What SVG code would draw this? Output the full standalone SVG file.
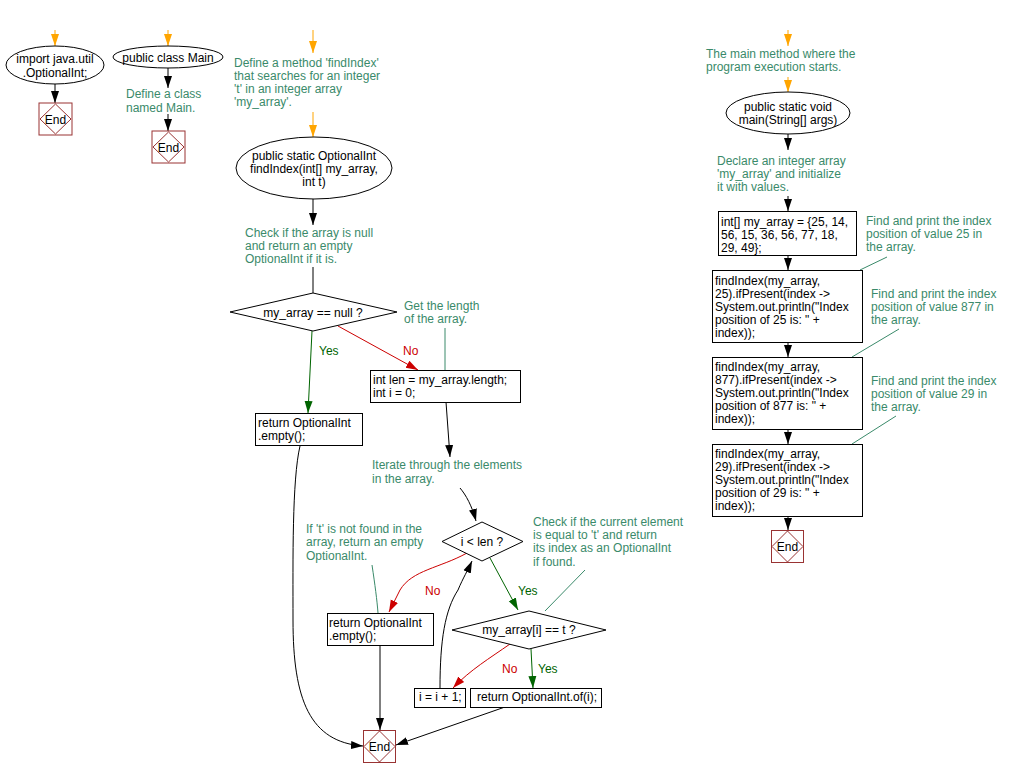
<svg xmlns="http://www.w3.org/2000/svg" width="1011" height="777" viewBox="0 0 1011 777">
<defs>
<style>
text{font-family:"Liberation Sans",Arial,sans-serif;font-size:12px;fill:#000}
.c{fill:#3A8A6A}
.m{text-anchor:middle}
.y{fill:#006400}
.n{fill:#CC0000}
.sh{fill:#fff;stroke:#000;stroke-width:1}
.end rect,.end path{fill:#fff;stroke:#993333;stroke-width:1}
.k{fill:none;stroke:#000;stroke-width:1}
.o{fill:none;stroke:#FFA500;stroke-width:1}
.g{fill:none;stroke:#006400;stroke-width:1}
.r{fill:none;stroke:#CC0000;stroke-width:1}
.cl{fill:none;stroke:#3A8A6A;stroke-width:1}
</style>
<marker id="ak" markerUnits="userSpaceOnUse" markerWidth="14" markerHeight="10" refX="12" refY="5" orient="auto"><path d="M0,1 L12,5 L0,9 z" fill="#000"/></marker>
<marker id="ao" markerUnits="userSpaceOnUse" markerWidth="14" markerHeight="10" refX="12" refY="5" orient="auto"><path d="M0,1 L12,5 L0,9 z" fill="#FFA500"/></marker>
<marker id="ag" markerUnits="userSpaceOnUse" markerWidth="14" markerHeight="10" refX="12" refY="5" orient="auto"><path d="M0,1 L12,5 L0,9 z" fill="#006400"/></marker>
<marker id="ar" markerUnits="userSpaceOnUse" markerWidth="14" markerHeight="10" refX="12" refY="5" orient="auto"><path d="M0,1 L12,5 L0,9 z" fill="#CC0000"/></marker>
</defs>
<rect width="1011" height="777" fill="#fff"/>

<g id="connectors">
<path class="o" d="M55,30 L55,46" marker-end="url(#ao)"/>
<path class="k" d="M55,84 L55,103" marker-end="url(#ak)"/>
<path class="o" d="M168,30 L168,46" marker-end="url(#ao)"/>
<path class="k" d="M168,68 L168,88" marker-end="url(#ak)"/>
<path class="k" d="M168,114 L168,131" marker-end="url(#ak)"/>
<path class="o" d="M313,30 L313,53" marker-end="url(#ao)"/>
<path class="o" d="M313,112 L313,137" marker-end="url(#ao)"/>
<path class="k" d="M313,199 L313,225" marker-end="url(#ak)"/>
<path class="k" d="M313,267 L313,293"/>
<path class="g" d="M312,331 L308,413" marker-end="url(#ag)"/>
<path class="r" d="M338,326 L418,370" marker-end="url(#ar)"/>
<path class="k" d="M446,402 L450,457" marker-end="url(#ak)"/>
<path class="k" d="M460,488 C466,495 472,506 476,521" marker-end="url(#ak)"/>
<path class="k" d="M300,446 C292,480 293,560 293,620 C293,700 310,742 363,746" marker-end="url(#ak)"/>
<path class="r" d="M467,553 C440,568 412,570 400,590 L389,612" marker-end="url(#ar)"/>
<path class="g" d="M490,558 L518,610" marker-end="url(#ag)"/>
<path class="k" d="M440,688 C440,640 445,610 458,590 C463,578 468,570 472,561" marker-end="url(#ak)"/>
<path class="r" d="M510,644 C490,658 470,670 453,688" marker-end="url(#ar)"/>
<path class="g" d="M531,649 L533,688" marker-end="url(#ag)"/>
<path class="k" d="M380,645 L380,730" marker-end="url(#ak)"/>
<path class="k" d="M505,707 L396,745" marker-end="url(#ak)"/>
<path class="cl" d="M445,328 L445,370"/>
<path class="cl" d="M372,565 C375,585 377,600 378,613"/>
<path class="cl" d="M585,570 L545,611"/>
<path class="o" d="M788,30 L788,46" marker-end="url(#ao)"/>
<path class="o" d="M788,77 L788,92" marker-end="url(#ao)"/>
<path class="k" d="M788,134 L788,150" marker-end="url(#ak)"/>
<path class="k" d="M788,196 L788,211" marker-end="url(#ak)"/>
<path class="k" d="M788,256 L788,270" marker-end="url(#ak)"/>
<path class="k" d="M788,342 L788,357" marker-end="url(#ak)"/>
<path class="k" d="M788,429 L788,444" marker-end="url(#ak)"/>
<path class="k" d="M788,516 L788,530" marker-end="url(#ak)"/>
<path class="cl" d="M887,257 L860,270"/>
<path class="cl" d="M899,329 L852,357"/>
<path class="cl" d="M896,416 L852,444"/>
</g>

<g id="import">
<ellipse class="sh" cx="55" cy="65" rx="49" ry="19"/>
<text class="m" x="55" y="63">import java.util</text>
<text class="m" x="55" y="77">.OptionalInt;</text>
</g>
<g id="end1" class="end">
<rect x="39" y="103" width="33" height="32"/>
<path d="M55.5,104 L71,119 L55.5,134 L40,119 z"/>
<text class="m" x="55.5" y="124">End</text>
</g>

<g id="classMain">
<ellipse class="sh" cx="168" cy="57" rx="55" ry="11"/>
<text class="m" x="168" y="62">public class Main</text>
</g>
<g id="cmt-class">
<text class="c" x="126" y="98">Define a class</text>
<text class="c" x="126" y="112">named Main.</text>
</g>
<g id="end2" class="end">
<rect x="152" y="131" width="33" height="32"/>
<path d="M168.5,132 L184,147 L168.5,162 L153,147 z"/>
<text class="m" x="168.5" y="152">End</text>
</g>

<g id="cmt-method">
<text class="c" x="234" y="67">Define a method 'findIndex'</text>
<text class="c" x="234" y="80">that searches for an integer</text>
<text class="c" x="234" y="93">'t' in an integer array</text>
<text class="c" x="234" y="106">'my_array'.</text>
</g>
<g id="findIndex">
<ellipse class="sh" cx="314" cy="168" rx="78" ry="31"/>
<text class="m" x="314" y="160">public static OptionalInt</text>
<text class="m" x="314" y="173">findIndex(int[] my_array,</text>
<text class="m" x="314" y="186">int t)</text>
</g>
<g id="cmt-null">
<text class="c" x="245" y="237">Check if the array is null</text>
<text class="c" x="245" y="250">and return an empty</text>
<text class="c" x="245" y="263">OptionalInt if it is.</text>
</g>
<g id="dNull">
<path class="sh" d="M313,293 L397,312 L313,331 L230,312 z"/>
<text class="m" x="313" y="317">my_array == null ?</text>
</g>
<text class="y" x="319" y="355">Yes</text>
<text class="n" x="403" y="355">No</text>
<g id="cmt-len">
<text class="c" x="404" y="310">Get the length</text>
<text class="c" x="404" y="323">of the array.</text>
</g>
<g id="lenBox">
<rect class="sh" x="370.5" y="370.5" width="150" height="32"/>
<text x="373" y="384">int len = my_array.length;</text>
<text x="373" y="397">int i = 0;</text>
</g>
<g id="empty1">
<rect class="sh" x="255.5" y="413.5" width="107" height="32"/>
<text x="258" y="427">return OptionalInt</text>
<text x="258" y="440">.empty();</text>
</g>
<g id="cmt-iter">
<text class="c" x="372" y="469">Iterate through the elements</text>
<text class="c" x="372" y="483">in the array.</text>
</g>
<g id="dLen">
<path class="sh" d="M482,522 L523,541.5 L482,561 L442,541.5 z"/>
<text class="m" x="482" y="546">i &lt; len ?</text>
</g>
<g id="cmt-notfound">
<text class="c" x="306" y="533">If 't' is not found in the</text>
<text class="c" x="306" y="546">array, return an empty</text>
<text class="c" x="306" y="560">OptionalInt.</text>
</g>
<g id="cmt-check">
<text class="c" x="533" y="526">Check if the current element</text>
<text class="c" x="533" y="539">is equal to 't' and return</text>
<text class="c" x="533" y="552">its index as an OptionalInt</text>
<text class="c" x="533" y="566">if found.</text>
</g>
<text class="n" x="425" y="595">No</text>
<text class="y" x="518" y="595">Yes</text>
<g id="empty2">
<rect class="sh" x="327.5" y="613.5" width="106" height="32"/>
<text x="329" y="627">return OptionalInt</text>
<text x="329" y="640">.empty();</text>
</g>
<g id="dEq">
<path class="sh" d="M529,611 L606,630 L529,649 L452,630 z"/>
<text class="m" x="529" y="634">my_array[i] == t ?</text>
</g>
<text class="n" x="502" y="673">No</text>
<text class="y" x="538" y="673">Yes</text>
<g id="incBox">
<rect class="sh" x="414.5" y="688.5" width="51" height="19"/>
<text x="419" y="701">i = i + 1;</text>
</g>
<g id="ofBox">
<rect class="sh" x="470.5" y="688.5" width="131" height="19"/>
<text x="477" y="701">return OptionalInt.of(i);</text>
</g>
<g id="end3" class="end">
<rect x="363.5" y="730.5" width="32" height="32"/>
<path d="M379.5,731 L395,746.5 L379.5,762 L364,746.5 z"/>
<text class="m" x="379.5" y="751">End</text>
</g>

<g id="cmt-main">
<text class="c" x="706" y="58">The main method where the</text>
<text class="c" x="706" y="71">program execution starts.</text>
</g>
<g id="mainMethod">
<ellipse class="sh" cx="788" cy="113" rx="62" ry="21"/>
<text class="m" x="788" y="111">public static void</text>
<text class="m" x="788" y="124">main(String[] args)</text>
</g>
<g id="cmt-decl">
<text class="c" x="717" y="165">Declare an integer array</text>
<text class="c" x="717" y="178">'my_array' and initialize</text>
<text class="c" x="717" y="191">it with values.</text>
</g>
<g id="arrBox">
<rect class="sh" x="718.5" y="211.5" width="138" height="44"/>
<text x="721" y="226">int[] my_array = {25, 14,</text>
<text x="721" y="239">56, 15, 36, 56, 77, 18,</text>
<text x="721" y="252">29, 49};</text>
</g>
<g id="cmt-25">
<text class="c" x="866" y="225">Find and print the index</text>
<text class="c" x="866" y="238">position of value 25 in</text>
<text class="c" x="866" y="251">the array.</text>
</g>
<g id="find25">
<rect class="sh" x="712.5" y="270.5" width="150" height="72"/>
<text x="715" y="285">findIndex(my_array,</text>
<text x="715" y="298">25).ifPresent(index -&gt;</text>
<text x="715" y="311">System.out.println("Index</text>
<text x="715" y="324">position of 25 is: " +</text>
<text x="715" y="337">index));</text>
</g>
<g id="cmt-877">
<text class="c" x="871" y="298">Find and print the index</text>
<text class="c" x="871" y="311">position of value 877 in</text>
<text class="c" x="871" y="324">the array.</text>
</g>
<g id="find877">
<rect class="sh" x="712.5" y="357.5" width="150" height="72"/>
<text x="715" y="371">findIndex(my_array,</text>
<text x="715" y="384">877).ifPresent(index -&gt;</text>
<text x="715" y="397">System.out.println("Index</text>
<text x="715" y="410">position of 877 is: " +</text>
<text x="715" y="423">index));</text>
</g>
<g id="cmt-29">
<text class="c" x="871" y="385">Find and print the index</text>
<text class="c" x="871" y="398">position of value 29 in</text>
<text class="c" x="871" y="411">the array.</text>
</g>
<g id="find29">
<rect class="sh" x="712.5" y="444.5" width="150" height="72"/>
<text x="715" y="458">findIndex(my_array,</text>
<text x="715" y="471">29).ifPresent(index -&gt;</text>
<text x="715" y="484">System.out.println("Index</text>
<text x="715" y="497">position of 29 is: " +</text>
<text x="715" y="510">index));</text>
</g>
<g id="end4" class="end">
<rect x="771.5" y="530.5" width="32" height="32"/>
<path d="M787.5,531 L803,546.5 L787.5,562 L772,546.5 z"/>
<text class="m" x="787.5" y="551">End</text>
</g>
</svg>
